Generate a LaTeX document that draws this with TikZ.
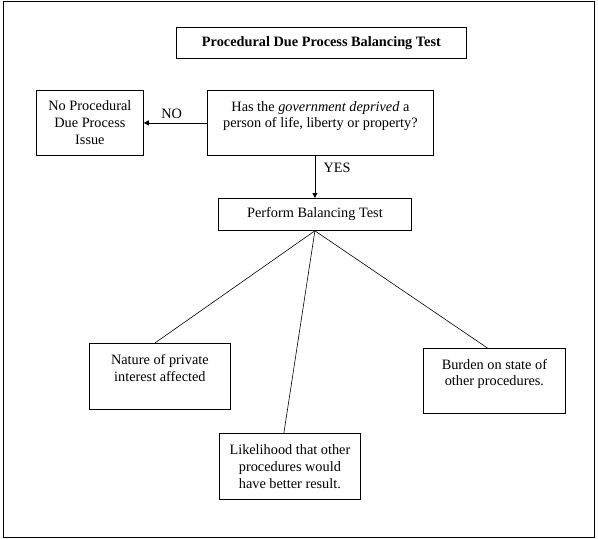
\documentclass[tikz,border=0pt]{standalone}
\usepackage{fontspec}
\setmainfont{Liberation Serif}
\usetikzlibrary{arrows.meta,positioning}
\begin{document}
\begin{tikzpicture}[
    x=1pt, y=-1pt, % 以像素为单位，y 轴向下
    line width=0.8pt,
    every node/.style={font=\fontsize{14.3}{16.8}\selectfont},
    box/.style={draw, anchor=north west, inner sep=0pt, align=center},
    arr/.style={-{Triangle[length=5pt,width=5pt]}},
    leg/.style={line width=0.6pt}
]
  \useasboundingbox (0,0) rectangle (598,539);
  % 外框
  \draw[line width=1pt] (3,1) rectangle (594,537);
  % 标题
  \node[box, minimum width=290, minimum height=31,
        font=\fontsize{14.3}{16.8}\selectfont\bfseries] (title) at (176,27)
    {Procedural Due Process Balancing Test};
  % 判断与结论
  \node[box, minimum width=107, minimum height=65] (noissue) at (36,90)
    {No Procedural\\Due Process\\Issue};
  \node[box, minimum width=226, minimum height=65] (question) at (207,90)
    {Has the \textit{government deprived} a\\person of life, liberty or property?\\~};
  \node[box, minimum width=193, minimum height=32] (perform) at (218,198)
    {Perform Balancing Test};
  % 三个因素
  \node[box, minimum width=141, minimum height=66] (nature) at (89,343)
    {Nature of private\\interest affected\\~};
  \node[box, minimum width=141, minimum height=66] (likely) at (219,433)
    {Likelihood that other\\procedures would\\have better result.};
  \node[box, minimum width=142, minimum height=65] (burden) at (423,348)
    {Burden on state of\\other procedures.\\~};
  % 连线
  \draw[arr] (question.west) -- (question.west -| noissue.east)
    node[pos=0.56, above=1pt] {NO};
  \draw[arr] (question.south -| perform.north) -- (perform.north)
    node[pos=0.28, right=5pt] {YES};
  \draw[leg] (perform.south) -- ([xshift=-5]nature.north);
  \draw[leg] (perform.south) -- ([xshift=-6]likely.north);
  \draw[leg] (perform.south) -- ([xshift=-7]burden.north);
\end{tikzpicture}
\end{document}
